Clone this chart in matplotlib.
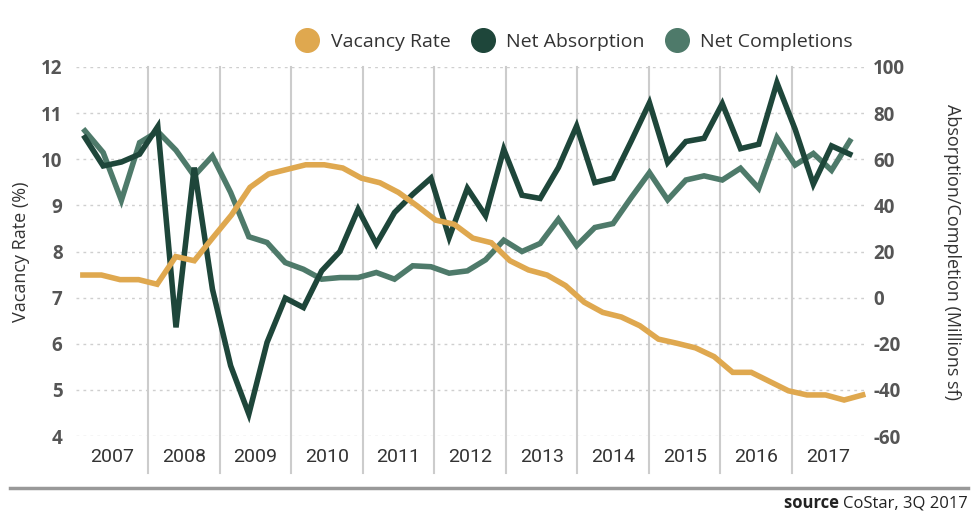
import matplotlib
matplotlib.use("Agg")
import matplotlib.pyplot as plt
from matplotlib.lines import Line2D
from matplotlib import font_manager

# quarterly data, 2007 Q1 .. 2017 Q3
years = ['2007', '2008', '2009', '2010', '2011', '2012',
         '2013', '2014', '2015', '2016', '2017']

vacancy = [7.49, 7.49, 7.39, 7.39, 7.29, 7.89, 7.80, 8.30, 8.79, 9.39,
           9.68, 9.78, 9.88, 9.88, 9.81, 9.59, 9.49, 9.28, 8.99, 8.68,
           8.59, 8.29, 8.19, 7.80, 7.60, 7.49, 7.26, 6.90, 6.68, 6.58,
           6.39, 6.10, 6.01, 5.91, 5.72, 5.38, 5.38, 5.18, 4.98, 4.89,
           4.89, 4.78, 4.89]

absorption = [69.4, 57.1, 58.8, 62.2, 74.2, -12.9, 56.4, 3.7, -29.5, -50.5,
              -19.4, -0.2, -4.3, 11.6, 20.0, 38.3, 23.2, 36.9, 44.8, 51.8,
              26.1, 47.4, 35.5, 64.3, 44.4, 43.0, 56.4, 74.4, 49.9, 51.8,
              67.9, 84.5, 58.6, 67.7, 69.1, 84.1, 64.6, 66.5, 93.2, 73.0,
              49.2, 65.8, 62.2]

completions = [72.3, 62.9, 42.2, 67.2, 72.0, 63.9, 52.8, 61.4, 45.6, 26.4,
               23.9, 15.2, 12.3, 8.0, 8.7, 8.7, 10.9, 8.0, 13.8, 13.4,
               10.6, 11.6, 16.4, 24.9, 20.0, 23.5, 34.0, 22.5, 30.4, 32.1,
               43.4, 54.2, 42.4, 51.0, 52.8, 51.0, 56.1, 47.4, 69.4, 57.5,
               62.5, 55.2, 67.9]

left_ticks = [4, 5, 6, 7, 8, 9, 10, 11, 12]
right_ticks = [-60, -40, -20, 0, 20, 40, 60, 80, 100]

GOLD = '#dfa84f'
DARK = '#1e463a'
MID = '#4e7a6a'
TXT = '#555555'

avail = {f.name for f in font_manager.fontManager.ttflist}
narrow = 'Liberation Sans Narrow' if 'Liberation Sans Narrow' in avail else 'Roboto'

fig = plt.figure(figsize=(9.75, 5.16), dpi=100)
pos = [76.4 / 975, 1 - 436 / 516, (863.6 - 76.4) / 975, (436 - 67) / 516]

# base axes: grid, year labels, left ticks
ax = fig.add_axes(pos)
ax.set_xlim(0, 11)
ax.set_ylim(4, 12)
for s in ax.spines.values():
    s.set_visible(False)
ax.set_yticks(left_ticks)
ax.set_yticklabels([str(t) for t in left_ticks], fontsize=13.5,
                   fontweight='bold', color=TXT, family='Open Sans')
ax.tick_params(axis='y', length=0, pad=10)
for t in left_ticks:
    ax.axhline(t, color='#cfcfcf', lw=1, ls=(0, (2, 3)), zorder=0)
for k in range(1, 11):
    ax.axvline(k, ymin=-0.1, ymax=1, color='#cccccc', lw=1.5,
               clip_on=False, zorder=0)
ax.set_xticks([k + 0.5 for k in range(11)])
ax.set_xticklabels(years, fontsize=14, color='#333333', family=narrow)
ax.tick_params(axis='x', length=0, pad=9)
ax.set_ylabel('Vacancy Rate (%)', fontsize=13, color='#333333',
              family='Open Sans', labelpad=8)

# absorption / completions on right axis
axr = fig.add_axes(pos, facecolor='none')
axr.set_xlim(-0.47, 42.76)
axr.set_ylim(-60, 100)
for s in axr.spines.values():
    s.set_visible(False)
axr.set_xticks([])
axr.yaxis.tick_right()
axr.yaxis.set_label_position('right')
axr.set_yticks(right_ticks)
axr.set_yticklabels([str(t) for t in right_ticks], fontsize=13.5,
                    fontweight='bold', color=TXT, family='Open Sans')
axr.tick_params(axis='y', length=0, pad=7)
axr.set_ylabel('Absorption/Completion (Millions sf)', fontsize=13,
               color='#333333', family='Open Sans', rotation=270, labelpad=40)
axr.plot(range(len(completions)), completions, color=MID, lw=4,
         solid_joinstyle='miter', clip_on=False)
axr.plot(range(len(absorption)), absorption, color=DARK, lw=4,
         solid_joinstyle='miter', clip_on=False)

# vacancy on left scale
axv = fig.add_axes(pos, facecolor='none')
axv.set_xlim(-0.35, 42.05)
axv.set_ylim(4, 12)
axv.axis('off')
axv.plot(range(len(vacancy)), vacancy, color=GOLD, lw=4,
         solid_joinstyle='miter', clip_on=False)

handles = [Line2D([], [], marker='o', ls='none', markersize=17, color=c)
           for c in (GOLD, DARK, MID)]
fig.legend(handles, ['Vacancy Rate', 'Net Absorption', 'Net Completions'],
           loc='center right', bbox_to_anchor=(870 / 975, 1 - 42 / 516),
           ncol=3, frameon=False, handlelength=1.3, handletextpad=0.55,
           columnspacing=1.0, prop={'family': 'Open Sans', 'size': 14},
           labelcolor='#333333')

# footer rule and source note
fig.add_artist(Line2D([10 / 975, 968 / 975], [1 - 488 / 516] * 2,
                      color='#999999', lw=2.5))
co = fig.text(968 / 975, 1 - 504 / 516, 'CoStar, 3Q 2017', ha='right',
              va='center', fontsize=12, color='#222222', family='Open Sans')
ax.annotate('source ', xy=(0, 0), xycoords=co, ha='right', va='bottom',
            fontsize=12, fontweight='bold', color='#222222',
            family='Open Sans', annotation_clip=False)

fig.savefig('out.png', dpi=100)
